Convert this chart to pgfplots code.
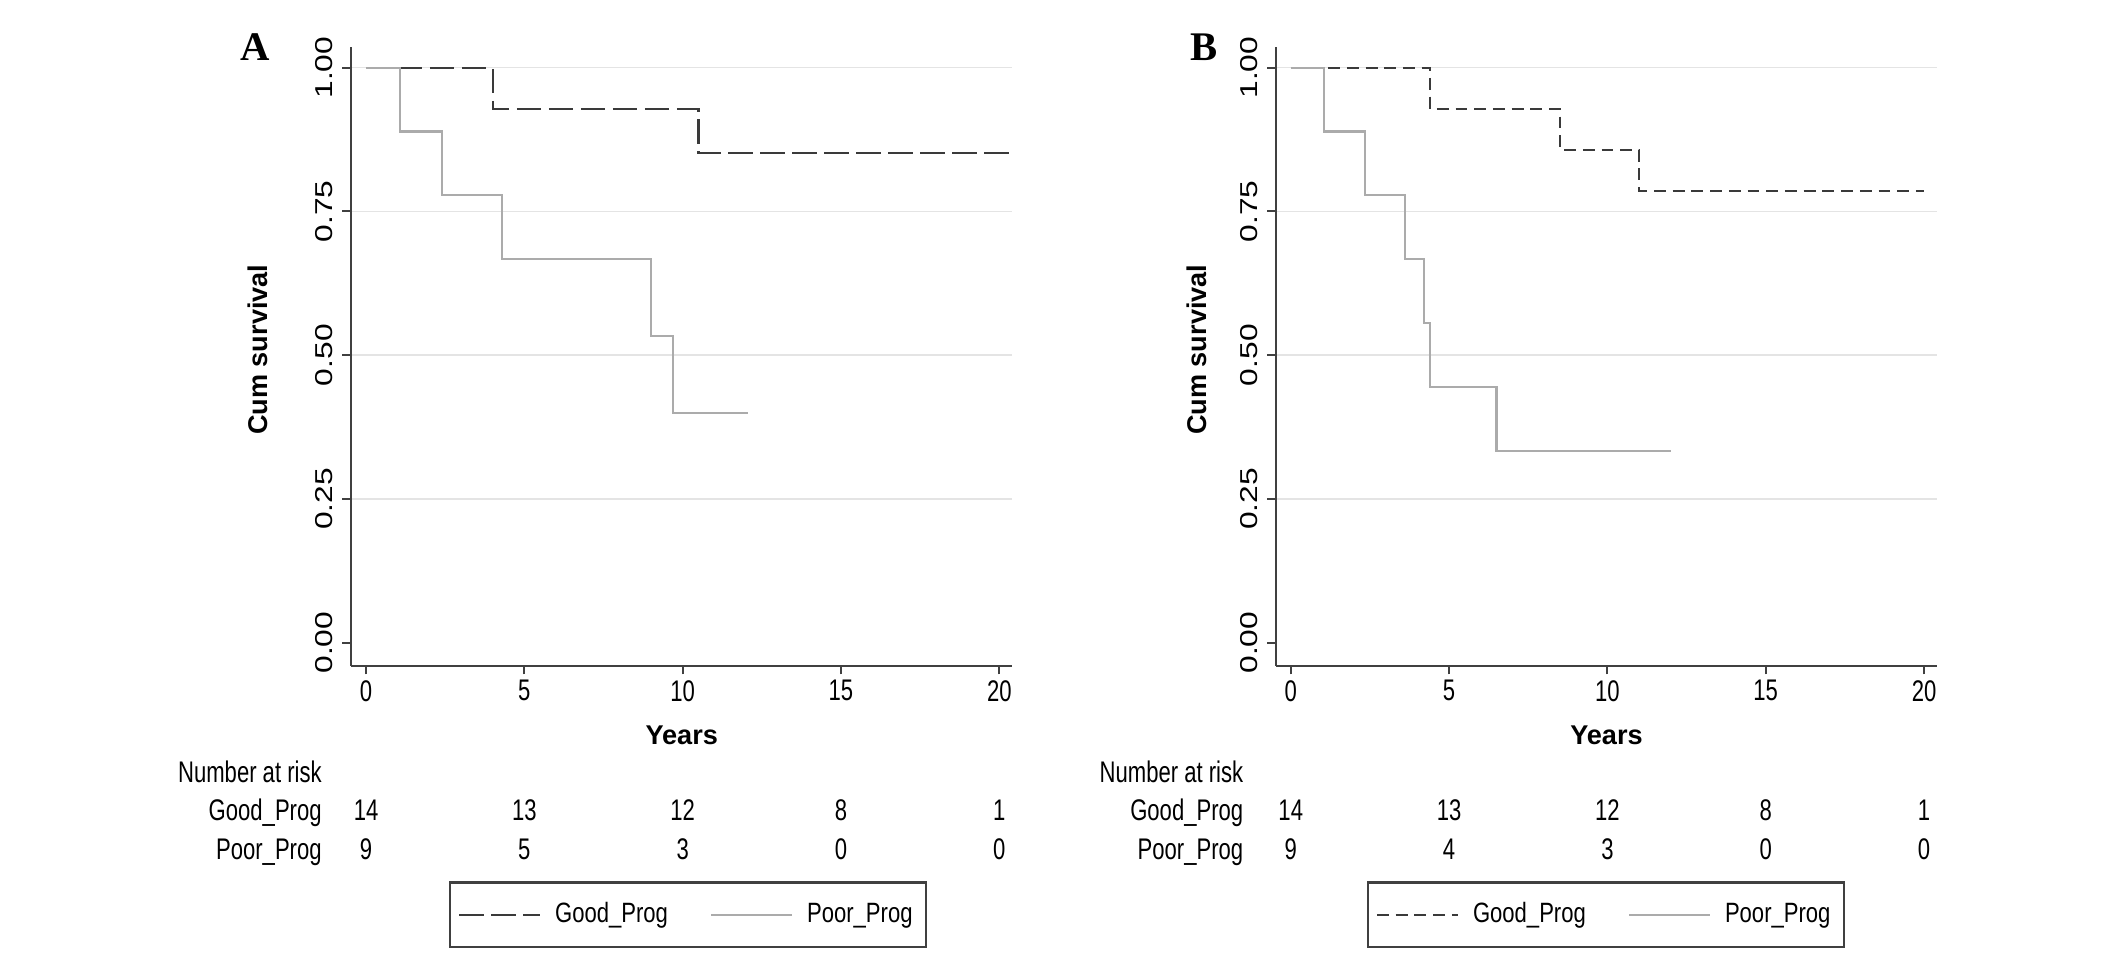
\documentclass[border=0pt]{standalone}
\usepackage{fontspec}
\setmainfont{Liberation Sans}
\newfontfamily\condfont{Liberation Sans}[FakeStretch=0.74]
\newfontfamily\legfont{Liberation Sans}[FakeStretch=0.79]
\newfontfamily\widefont{Liberation Sans}[FakeStretch=1.3]
\newfontfamily\serifbold{Liberation Serif}
\usepackage{pgfplots}
\pgfplotsset{compat=1.18}
\definecolor{goodc}{HTML}{3A3A3A}
\definecolor{poorc}{HTML}{ABABAB}
\definecolor{gridc}{HTML}{E4E4E4}
\definecolor{axisc}{HTML}{404040}
\newcommand{\condsz}{\condfont\fontsize{11}{13}\selectfont}
\newcommand{\legsz}{\legfont\fontsize{10.3}{12}\selectfont}
\pgfplotsset{km/.style={
  scale only axis, width=243.8pt, height=228pt,
  xmin=-0.47, xmax=20.41, ymin=-0.04, ymax=1.035,
  axis lines*=left, axis line style={axisc, line width=0.8pt},
  xtick={0,5,10,15,20}, xticklabels={0,5,10,15,20},
  ytick={0.25,0.5,0.75,1}, yticklabels={0.25,0.50,0.75,1.00},
  extra y ticks={0}, extra y tick labels={0.00}, extra y tick style={grid=none},
  ymajorgrids, grid style={gridc, line width=0.6pt},
  tick align=outside, major tick length=3.2pt, tick style={axisc, line width=0.8pt},
  xticklabel style={font=\condsz, inner sep=2pt},
  yticklabel style={font=\widefont\fontsize{9}{11}\selectfont, rotate=90, anchor=south},
  xlabel={Years}, xlabel style={font=\bfseries\fontsize{10}{12}\selectfont, at={(axis description cs:0.5,-0.1118)}, anchor=center},
  ylabel={Cum survival}, ylabel style={font=\bfseries\fontsize{10}{12}\selectfont, anchor=center},
  clip=false,
  legend columns=2, legend cell align=left,
  legend style={draw=axisc, line width=0.8pt, inner xsep=3pt, inner ysep=5.5pt, font=\legsz,
     /tikz/every odd column/.append style={column sep=3pt},
     /tikz/every even column/.append style={column sep=13.5pt}},
  legend image code/.code={\draw[#1] (0pt,0pt) -- (30pt,0pt);},
}}
\begin{document}
\begin{tikzpicture}
\path[use as bounding box] (0,0) rectangle (784pt,354pt);
\node[font=\serifbold\bfseries\fontsize{15}{18}\selectfont] at (94pt,336.5pt) {A};
\node[font=\serifbold\bfseries\fontsize{15}{18}\selectfont] at (444pt,336.5pt) {B};
% ---------------- Panel A
\begin{axis}[km, at={(129.5pt,108.5pt)}, anchor=south west,
  ylabel style={at={(axis description cs:-0.1415,0.511)}},
  legend style={at={(axis description cs:0.1477,-0.3487)}, anchor=north west}]
\addplot[const plot, goodc, line width=0.8pt, dash pattern=on 9pt off 2.8pt]
  coordinates {(0,1) (4.0,0.9286) (10.5,0.8512) (20.3,0.8512)};
\addlegendentry{Good\_Prog}
\addplot[const plot, poorc, line width=0.8pt]
  coordinates {(0,1) (1.08,0.8889) (2.4,0.7778) (4.3,0.6667) (9.0,0.5333) (9.7,0.4) (12.05,0.4)};
\addlegendentry{Poor\_Prog}
\node[anchor=base east, font=\condsz, yshift=-43pt] at (axis cs:-1.1,-0.04) {Number at risk};
\node[anchor=base east, font=\condsz, yshift=-57pt] at (axis cs:-1.1,-0.04) {Good\_Prog};
\node[anchor=base east, font=\condsz, yshift=-71.5pt] at (axis cs:-1.1,-0.04) {Poor\_Prog};
\node[anchor=base, font=\condsz, yshift=-57pt] at (axis cs:0,-0.04) {14};
\node[anchor=base, font=\condsz, yshift=-57pt] at (axis cs:5,-0.04) {13};
\node[anchor=base, font=\condsz, yshift=-57pt] at (axis cs:10,-0.04) {12};
\node[anchor=base, font=\condsz, yshift=-57pt] at (axis cs:15,-0.04) {8};
\node[anchor=base, font=\condsz, yshift=-57pt] at (axis cs:20,-0.04) {1};
\node[anchor=base, font=\condsz, yshift=-71.5pt] at (axis cs:0,-0.04) {9};
\node[anchor=base, font=\condsz, yshift=-71.5pt] at (axis cs:5,-0.04) {5};
\node[anchor=base, font=\condsz, yshift=-71.5pt] at (axis cs:10,-0.04) {3};
\node[anchor=base, font=\condsz, yshift=-71.5pt] at (axis cs:15,-0.04) {0};
\node[anchor=base, font=\condsz, yshift=-71.5pt] at (axis cs:20,-0.04) {0};
\end{axis}
% ---------------- Panel B
\begin{axis}[km, at={(470.5pt,108.5pt)}, anchor=south west,
  ylabel style={at={(axis description cs:-0.119,0.511)}},
  legend style={at={(axis description cs:0.1374,-0.3487)}, anchor=north west}]
\addplot[const plot, goodc, line width=0.8pt, dash pattern=on 4.4pt off 2.5pt]
  coordinates {(0,1) (4.4,0.9286) (8.5,0.8571) (11.0,0.7857) (20.0,0.7857)};
\addlegendentry{Good\_Prog}
\addplot[const plot, poorc, line width=0.8pt]
  coordinates {(0,1) (1.05,0.8889) (2.35,0.7778) (3.6,0.6667) (4.2,0.5556) (4.4,0.4444) (6.5,0.3333) (12.0,0.3333)};
\addlegendentry{Poor\_Prog}
\node[anchor=base east, font=\condsz, yshift=-43pt] at (axis cs:-1.2,-0.04) {Number at risk};
\node[anchor=base east, font=\condsz, yshift=-57pt] at (axis cs:-1.2,-0.04) {Good\_Prog};
\node[anchor=base east, font=\condsz, yshift=-71.5pt] at (axis cs:-1.2,-0.04) {Poor\_Prog};
\node[anchor=base, font=\condsz, yshift=-57pt] at (axis cs:0,-0.04) {14};
\node[anchor=base, font=\condsz, yshift=-57pt] at (axis cs:5,-0.04) {13};
\node[anchor=base, font=\condsz, yshift=-57pt] at (axis cs:10,-0.04) {12};
\node[anchor=base, font=\condsz, yshift=-57pt] at (axis cs:15,-0.04) {8};
\node[anchor=base, font=\condsz, yshift=-57pt] at (axis cs:20,-0.04) {1};
\node[anchor=base, font=\condsz, yshift=-71.5pt] at (axis cs:0,-0.04) {9};
\node[anchor=base, font=\condsz, yshift=-71.5pt] at (axis cs:5,-0.04) {4};
\node[anchor=base, font=\condsz, yshift=-71.5pt] at (axis cs:10,-0.04) {3};
\node[anchor=base, font=\condsz, yshift=-71.5pt] at (axis cs:15,-0.04) {0};
\node[anchor=base, font=\condsz, yshift=-71.5pt] at (axis cs:20,-0.04) {0};
\end{axis}
\end{tikzpicture}
\end{document}
